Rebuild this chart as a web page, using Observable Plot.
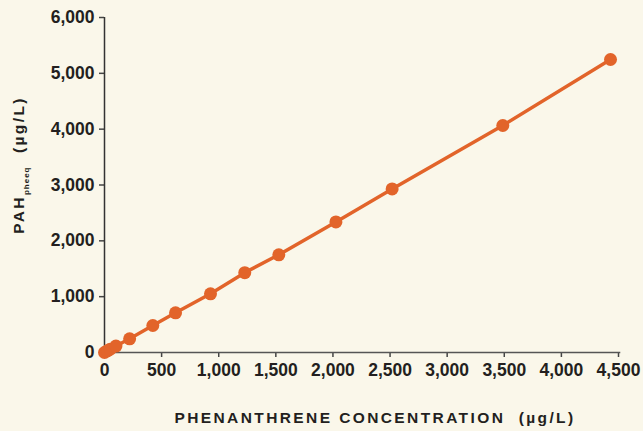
<!DOCTYPE html>
<html>
<head>
<meta charset="utf-8">
<script src="https://cdn.jsdelivr.net/npm/d3@7"></script>
<script src="https://cdn.jsdelivr.net/npm/@observablehq/plot@0.6"></script>
<style>
  html, body { margin: 0; padding: 0; background: #FAF7EA; }
  #chart { width: 643px; height: 431px; }
</style>
</head>
<body>
<div id="chart"></div>
<script>
// Phenanthrene concentration (µg/L)
const phenanthrene = [0, 25, 50, 100, 220, 423, 622, 928, 1228, 1526, 2026, 2518, 3487, 4430];
// PAH pheeq (µg/L)
const pahPheeq = [0, 30, 60, 115, 245, 484, 711, 1051, 1430, 1750, 2339, 2929, 4066, 5248];

const xTicks = [0, 500, 1000, 1500, 2000, 2500, 3000, 3500, 4000, 4500];
const yTicks = [0, 1000, 2000, 3000, 4000, 5000, 6000];

const xTitle = "PHENANTHRENE CONCENTRATION  (µg/L)";
const yTitleMain = "PAH";
const yTitleSub = "pheeq";
const yTitleUnit = "  (µg/L)";

const data = phenanthrene.map((x, i) => ({x, y: pahPheeq[i]}));

const orange = "#E2642A";
const ink = "#231F20";

const plot = Plot.plot({
  width: 643,
  height: 431,
  marginLeft: 104,
  marginRight: 25,
  marginTop: 17,
  marginBottom: 79,
  style: {
    background: "#FAF7EA",
    fontFamily: "'Liberation Sans', Arial, sans-serif",
    fontSize: "18px",
    fontWeight: "bold",
    color: ink
  },
  x: {domain: [0, 4500]},
  y: {domain: [0, 6000]},
  marks: [
    Plot.axisX({ticks: xTicks, tickFormat: d3.format(","), tickSize: 5, tickPadding: 6, label: null, stroke: "#444", strokeWidth: 1.5, fontSize: 17.5, fontWeight: "bold", fill: ink}),
    Plot.axisY({ticks: yTicks, tickFormat: d3.format(","), tickSize: 5, tickPadding: 5, label: null, stroke: "#444", strokeWidth: 1.5, fontSize: 17.5, fontWeight: "bold", fill: ink}),
    Plot.ruleY([0], {x1: 0, x2: 4520, stroke: "#555", strokeWidth: 1.5}),
    Plot.ruleX([0], {y1: 0, y2: 6000, stroke: "#333", strokeWidth: 1.5}),
    Plot.line(data, {x: "x", y: "y", stroke: orange, strokeWidth: 3.5}),
    Plot.dot(data, {x: "x", y: "y", r: 6.5, fill: orange, stroke: "none"})
  ]
});

const svg = d3.select(plot);
svg.append("text")
  .attr("x", 375)
  .attr("y", 423)
  .attr("text-anchor", "middle")
  .attr("fill", ink)
  .style("font-size", "15.5px")
  .style("font-weight", "bold")
  .style("letter-spacing", "2.4px")
  .style("white-space", "pre")
  .text(xTitle);

const yt = svg.append("text")
  .attr("transform", "translate(24,165) rotate(-90)")
  .attr("text-anchor", "middle")
  .attr("fill", ink)
  .style("font-size", "15.5px")
  .style("font-weight", "bold")
  .style("letter-spacing", "2.4px")
  .style("white-space", "pre");
yt.append("tspan").text(yTitleMain);
yt.append("tspan").attr("dy", 5).style("font-size", "8px").style("letter-spacing", "1px").text(yTitleSub);
yt.append("tspan").attr("dy", -5).text(yTitleUnit);

document.getElementById("chart").appendChild(plot);
</script>
</body>
</html>
